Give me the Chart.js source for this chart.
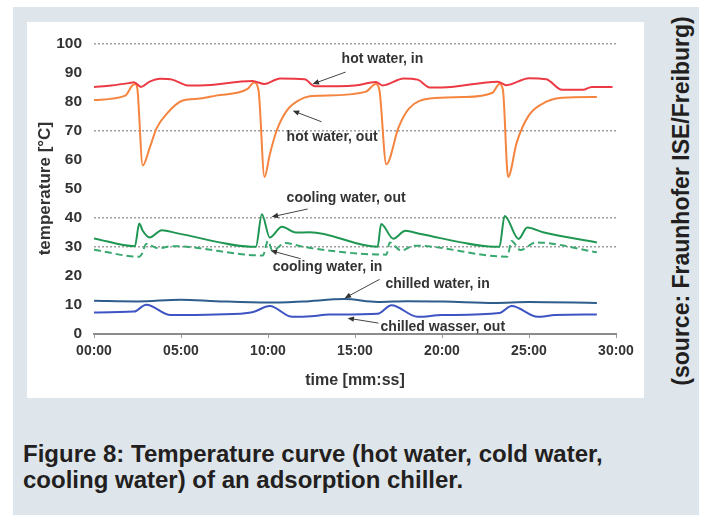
<!DOCTYPE html>
<html>
<head>
<meta charset="utf-8">
<script src="https://cdn.jsdelivr.net/npm/chart.js@4.4.1/dist/chart.umd.min.js"></script>
<style>
  html, body { margin: 0; padding: 0; background: #fff; }
  body { width: 703px; height: 515px; position: relative; overflow: hidden; font-family: "Liberation Sans", Arial, sans-serif; }
  #frame { position: absolute; left: 13px; top: 7px; width: 686px; height: 508px; background: #dee6ec; }
  #panel { position: absolute; left: 27px; top: 22px; width: 617px; height: 376px; background: #fff; }
  #source { position: absolute; left: 681px; top: 201px; transform: translate(-50%, -50%) rotate(-90deg); white-space: nowrap;
            font-weight: bold; font-size: 23px; color: #231f20; }
  #caption { position: absolute; left: 23px; top: 441px; font-weight: bold; font-size: 24px; line-height: 26px; color: #231f20; }
</style>
</head>
<body>
<div id="frame"></div>
<div id="panel"><canvas id="chart" width="617" height="376"></canvas></div>
<div id="source">(source: Fraunhofer ISE/Freiburg)</div>
<div id="caption">Figure 8: Temperature curve (hot water, cold water,<br>cooling water) of an adsorption chiller.</div>
<script>
// time in minutes, temperature in °C
const hotInT = [0, 1, 2, 2.3, 2.7, 3.2, 3.8, 4.5, 5.4, 6.1, 9.1, 9.8, 10.7, 12.1, 12.7, 15, 16.2, 16.6, 17.8, 18.6, 19.3, 20, 23.2, 23.7, 25, 26, 26.9, 28.1, 28.6, 29.8];
const hotInV = [85, 85.5, 86.3, 86.6, 85, 86.8, 87.8, 87.5, 85.5, 85.5, 87, 86, 87.9, 87.6, 85.2, 85.5, 86.7, 85.5, 87.9, 87.5, 84.8, 84.8, 86.8, 85.6, 88, 87.6, 84, 84, 85, 85];

const hotOutT = [0, 1.8, 2.2, 2.4, 2.5, 2.8, 3.2, 3.6, 4.2, 5.1, 6.1, 7, 8.8, 9.2, 9.45, 9.8, 10.1, 10.5, 11.1, 11.8, 12.4, 13, 15.6, 16.2, 16.4, 16.8, 17.5, 18.1, 19.3, 21.2, 22.9, 23.3, 23.5, 23.8, 24.3, 25, 26, 26.9, 28.9];
const hotOutV = [80.5, 82, 85.5, 86, 84, 58, 64, 70.8, 75.9, 80.3, 81, 82, 84.2, 86.5, 84, 54, 61.7, 70, 77, 80.5, 81.8, 82, 83.3, 86, 84, 58.4, 71, 77.5, 81, 81.5, 83, 86, 84, 54, 66, 75.3, 79.9, 81.3, 81.5];

const coolOutT = [0, 2.35, 2.6, 2.8, 3.2, 3.9, 4.75, 9.3, 9.65, 10.1, 10.8, 11.6, 12.4, 16.3, 16.5, 17.2, 17.9, 18.7, 23.3, 23.6, 24.4, 24.9, 25.8, 28.9];
const coolOutV = [32.9, 30.2, 38, 35.5, 33.2, 35.7, 34.7, 30, 41.2, 33.2, 36.9, 34.9, 35, 30, 37.8, 32.8, 35.5, 34.5, 30, 40.6, 32.7, 36.6, 35, 31.5];

const coolInT = [0, 2.6, 2.75, 3, 3.7, 4.5, 9.7, 10, 10.25, 11, 12, 16.8, 17, 17.65, 18.4, 23.75, 24, 24.5, 25.4, 28.9];
const coolInV = [29, 26.6, 27.5, 31, 29.5, 30.2, 27, 32, 28.7, 31.3, 30, 27.3, 31.5, 28.7, 30.4, 26.6, 32, 28.9, 31.5, 28.1];

const chillInT = [0, 2.5, 5, 7, 10, 12, 14.4, 16.3, 18, 20.1, 23, 25, 28.9];
const chillInV = [11.4, 11.2, 11.8, 11.3, 10.8, 11.2, 12, 11, 11.3, 11.2, 10.7, 11, 10.7];

const chillOutT = [0, 2.3, 3, 4.4, 7, 9.1, 10.1, 11.4, 12.5, 13.5, 16.3, 17.1, 18.6, 20, 23.3, 24, 25.5, 26.5, 28.9];
const chillOutV = [7.4, 7.7, 10.1, 6.5, 6.7, 7.5, 9.6, 5.9, 6.1, 6.7, 7, 9.9, 5.9, 6.5, 7.2, 9.6, 5.9, 6.5, 6.7];

const gridValues = [100, 70, 40, 30];

// label text, label anchor (t, v), arrow tail (t, v), arrow head (t, v)
const notes = [
  ["hot water, in", 14.23, 94.5, 14.46, 90.1, 12.56, 86.0],
  ["hot water, out", 11.07, 67.6, 13.08, 73.0, 11.42, 76.8],
  ["cooling water, out", 11.07, 46.8, 12.28, 43.0, 10.21, 40.3],
  ["cooling water, in", 10.27, 22.9, 11.88, 25.9, 10.15, 28.7],
  ["chilled water, in", 16.75, 17.1, 16.41, 18.8, 14.4, 12.3],
  ["chilled wasser, out", 16.47, 2.4, 16.35, 3.75, 14.57, 5.46]
];

function pts(ts, vs) {
  return ts.map((t, i) => ({ x: t, y: vs[i] }));
}

function line(label, ts, vs, color, dash) {
  return {
    label: label,
    data: pts(ts, vs),
    borderColor: color,
    backgroundColor: color,
    borderWidth: 2,
    borderDash: dash || [],
    pointRadius: 0,
    cubicInterpolationMode: "monotone",
  };
}

const notePlugin = {
  id: "notes",
  afterDatasetsDraw(chart) {
    const ctx = chart.ctx;
    const xs = chart.scales.x;
    const ys = chart.scales.y;
    ctx.save();
    ctx.font = "bold 14px 'Liberation Sans', Arial, sans-serif";
    ctx.fillStyle = "#333";
    ctx.textBaseline = "middle";
    ctx.textAlign = "left";
    notes.forEach(n => {
      ctx.fillText(n[0], xs.getPixelForValue(n[1]), ys.getPixelForValue(n[2]));
      const x1 = xs.getPixelForValue(n[3]);
      const y1 = ys.getPixelForValue(n[4]);
      const x2 = xs.getPixelForValue(n[5]);
      const y2 = ys.getPixelForValue(n[6]);
      const a = Math.atan2(y2 - y1, x2 - x1);
      ctx.strokeStyle = "#444";
      ctx.lineWidth = 1;
      ctx.beginPath();
      ctx.moveTo(x1, y1);
      ctx.lineTo(x2 - 5 * Math.cos(a), y2 - 5 * Math.sin(a));
      ctx.stroke();
      ctx.fillStyle = "#333";
      ctx.beginPath();
      ctx.moveTo(x2, y2);
      ctx.lineTo(x2 - 7 * Math.cos(a - 0.4), y2 - 7 * Math.sin(a - 0.4));
      ctx.lineTo(x2 - 7 * Math.cos(a + 0.4), y2 - 7 * Math.sin(a + 0.4));
      ctx.closePath();
      ctx.fill();
    });
    ctx.restore();
  },
};

const fam = "'Liberation Sans', Arial, sans-serif";

const chart = new Chart(document.getElementById("chart"), {
  type: "line",
  data: {
    datasets: [
      line("hot water, in", hotInT, hotInV, "#ec3a44"),
      line("hot water, out", hotOutT, hotOutV, "#f5843f"),
      line("cooling water, out", coolOutT, coolOutV, "#1f9652"),
      line("cooling water, in", coolInT, coolInV, "#38a86f", [7, 4]),
      line("chilled water, in", chillInT, chillInV, "#2f5d8c"),
      line("chilled wasser, out", chillOutT, chillOutV, "#3e54c3"),
    ],
  },
  options: {
    responsive: false,
    animation: false,
    layout: { padding: { left: 0, top: 19, right: 28, bottom: 0 } },
    plugins: { legend: { display: false }, tooltip: { enabled: false } },
    scales: {
      x: {
        type: "linear",
        min: 0,
        max: 30,
        afterFit: s => { s.height = 64; },
        ticks: {
          stepSize: 5,
          padding: 5,
          color: "#333",
          font: { family: fam, size: 14, weight: "bold" },
          callback: v => String(v).padStart(2, "0") + ":00",
        },
        grid: { drawOnChartArea: false, drawTicks: true, tickLength: 4, color: "#999" },
        border: { display: true, color: "#8c8c8c", width: 2 },
        title: {
          display: true,
          text: "time [mm:ss]",
          color: "#333",
          font: { family: fam, size: 16, weight: "bold" },
          padding: { top: 0, bottom: 8 },
        },
      },
      y: {
        min: 0,
        max: 100,
        afterFit: s => { s.width = 67; },
        ticks: {
          stepSize: 10,
          padding: 12,
          color: "#333",
          font: { family: fam, size: 15.5, weight: "bold" },
        },
        grid: {
          drawTicks: false,
          lineWidth: 1.5,
          color: c => gridValues.includes(c.tick.value) ? "#a0a0a0" : "rgba(0,0,0,0)",
        },
        border: { display: false, dash: [2, 2] },
        title: {
          display: true,
          text: "temperature [°C]",
          color: "#333",
          font: { family: fam, size: 17, weight: "bold" },
          padding: { top: 8, bottom: 0 },
        },
      },
    },
  },
  plugins: [notePlugin],
});
</script>
</body>
</html>
